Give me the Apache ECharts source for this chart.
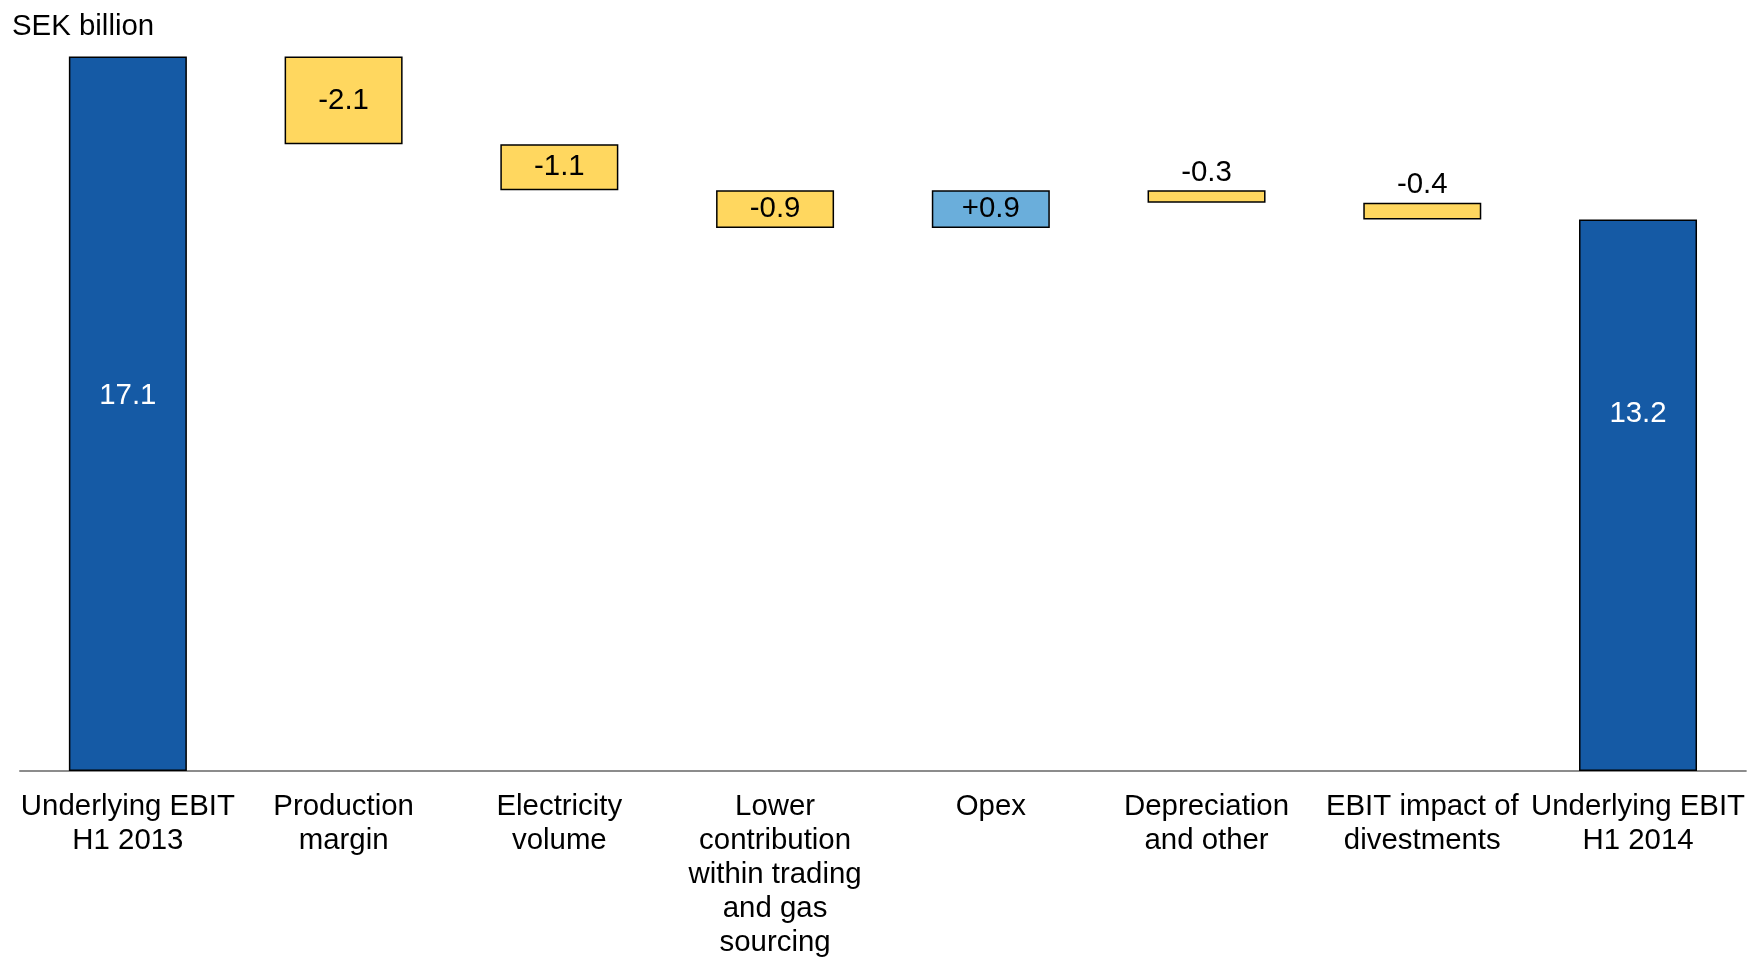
<!DOCTYPE html>
<html>
<head>
<meta charset="utf-8">
<script src="https://cdn.jsdelivr.net/npm/echarts@6/dist/echarts.min.js"></script>
<style>
  html, body { margin: 0; padding: 0; background: #ffffff; }
  #chart { width: 1748px; height: 960px; }
</style>
</head>
<body>
<div id="chart"></div>
<script>
// EBIT bridge, SEK billion
const categories = [
  'Underlying EBIT\nH1 2013',
  'Production\nmargin',
  'Electricity\nvolume',
  'Lower\ncontribution\nwithin trading\nand gas\nsourcing',
  'Opex',
  'Depreciation\nand other',
  'EBIT impact of\ndivestments',
  'Underlying EBIT\nH1 2014'
];
const startValue = 17.1;
const changes = [-2.1, -1.1, -0.9, 0.9, -0.3, -0.4];
const endValue = 13.2;
const valueLabels = ['17.1', '-2.1', '-1.1', '-0.9', '+0.9', '-0.3', '-0.4', '13.2'];

const FONT = '"Liberation Sans", Arial, sans-serif';
const FONT_SIZE = 29.4;
const DARK_BLUE = '#155AA5';
const YELLOW = '#FFD75F';
const LIGHT_BLUE = '#6AAEDB';

// Build invisible base + visible segment for every step of the bridge
const baseData = [0];
const segData = [];
let running = startValue;
segData.push({
  value: startValue,
  itemStyle: { color: DARK_BLUE },
  label: { color: '#ffffff', position: ['50%', '47.5%'], align: 'center', verticalAlign: 'middle' }
});
changes.forEach((c) => {
  const next = +(running + c).toFixed(2);
  baseData.push(Math.min(running, next));
  const small = Math.abs(c) < 0.5;
  segData.push({
    value: Math.abs(c),
    itemStyle: { color: c < 0 ? YELLOW : LIGHT_BLUE },
    label: small
      ? { position: 'top', distance: 3, color: '#000000' }
      : { position: 'inside', color: '#000000' }
  });
  running = next;
});
baseData.push(0);
segData.push({
  value: endValue,
  itemStyle: { color: DARK_BLUE },
  label: { color: '#ffffff', position: ['50%', '35.2%'], align: 'center', verticalAlign: 'middle' }
});

const chart = echarts.init(document.getElementById('chart'), null, { renderer: 'canvas' });
chart.setOption({
  animation: false,
  backgroundColor: '#ffffff',
  title: {
    text: 'SEK billion',
    left: 7,
    top: 7,
    textStyle: { fontFamily: FONT, fontSize: FONT_SIZE, fontWeight: 'normal', color: '#000000' }
  },
  grid: { left: 20, right: 2, top: 19, bottom: 185, containLabel: false },
  xAxis: {
    type: 'category',
    data: categories,
    axisLine: { show: true, lineStyle: { color: '#8c8c8c', width: 2 } },
    axisTick: { show: false },
    axisLabel: {
      interval: 0,
      margin: 19,
      fontFamily: FONT,
      fontSize: FONT_SIZE,
      lineHeight: 34,
      color: '#000000',
      align: 'center',
      verticalAlign: 'top'
    }
  },
  yAxis: {
    type: 'value',
    min: 0,
    max: 18,
    show: false,
    splitLine: { show: false }
  },
  series: [
    {
      type: 'bar',
      stack: 'bridge',
      data: baseData,
      barWidth: 118,
      itemStyle: { color: 'transparent', borderWidth: 0 },
      emphasis: { disabled: true },
      silent: true
    },
    {
      type: 'bar',
      stack: 'bridge',
      data: segData,
      barWidth: 118,
      itemStyle: { borderColor: '#000000', borderWidth: 1.5 },
      label: {
        show: true,
        fontFamily: FONT,
        fontSize: FONT_SIZE,
        formatter: p => valueLabels[p.dataIndex]
      }
    }
  ]
});
</script>
</body>
</html>
